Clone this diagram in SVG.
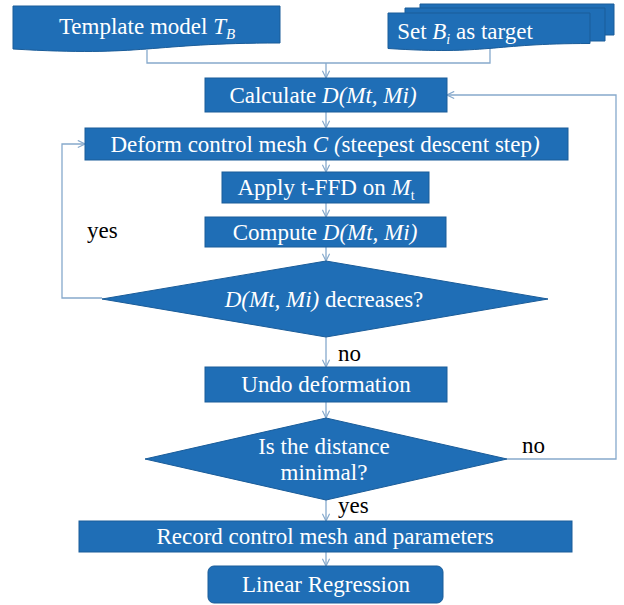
<svg xmlns="http://www.w3.org/2000/svg" width="624" height="605" viewBox="0 0 624 605">
<defs>
<style>
.box{fill:#1f6eb6;stroke:#1a5c99;stroke-width:1}
.t{font-family:"Liberation Serif","Times New Roman",serif;font-size:23px;fill:#ffffff;text-anchor:middle}
.lbl{font-family:"Liberation Serif","Times New Roman",serif;font-size:23px;fill:#000000}
.i{font-style:italic}
.ln{fill:none;stroke:#86a9cc;stroke-width:1.3}
</style>
<marker id="ah" viewBox="0 0 10 10" refX="9" refY="5" markerWidth="9" markerHeight="9" markerUnits="userSpaceOnUse" orient="auto">
<path d="M1,1 L9,5 L1,9" fill="none" stroke="#86a9cc" stroke-width="1.3"/>
</marker>
</defs>
<rect width="624" height="605" fill="#ffffff"/>

<g id="connectors">
<path class="ln" d="M147,50 V63 H490 V46"/>
<path class="ln" d="M326,63 V78" marker-end="url(#ah)"/>
<path class="ln" d="M326,112 V128" marker-end="url(#ah)"/>
<path class="ln" d="M326,160 V172" marker-end="url(#ah)"/>
<path class="ln" d="M326,203 V217" marker-end="url(#ah)"/>
<path class="ln" d="M326,247 V261" marker-end="url(#ah)"/>
<path class="ln" d="M102,298 H62 V144 H85" marker-end="url(#ah)"/>
<path class="ln" d="M326,337 V367" marker-end="url(#ah)"/>
<path class="ln" d="M326,402 V418" marker-end="url(#ah)"/>
<path class="ln" d="M507,459 H616 V95 H447" marker-end="url(#ah)"/>
<path class="ln" d="M326,500 V521" marker-end="url(#ah)"/>
<path class="ln" d="M326,552 V566" marker-end="url(#ah)"/>
</g>

<g id="template">
<path class="box" d="M13,6 H280 V43 C146.5,43 146.5,57 13,49 Z"/>
<text class="t" x="147" y="34">Template model <tspan class="i">T</tspan><tspan class="i" font-size="15" dy="5">B</tspan></text>
</g>

<g id="setB">
<path class="box" d="M420,4 H614 V35 H600 V20 H420 Z"/>
<path class="box" d="M405,8 H605 V41 H588 V20 H405 Z"/>
<path class="box" d="M388,13 H590 V43.5 C489,43.5 489,55 388,48.5 Z"/>
<text class="t" x="465" y="39">Set <tspan class="i">B</tspan><tspan class="i" font-size="14" dy="5">i</tspan><tspan dy="-5"> as target</tspan></text>
</g>

<g id="calculate">
<rect class="box" x="205" y="78" width="242" height="34"/>
<text class="t" x="323" y="103">Calculate <tspan class="i">D(Mt, Mi)</tspan></text>
</g>

<g id="deform">
<rect class="box" x="85" y="128" width="483" height="32"/>
<text class="t" x="325" y="152">Deform control mesh <tspan class="i">C (</tspan>steepest descent step<tspan class="i">)</tspan></text>
</g>

<g id="apply">
<rect class="box" x="222" y="172" width="207" height="31"/>
<text class="t" x="326" y="195">Apply t-FFD on <tspan class="i">M</tspan><tspan font-size="14" dy="5">t</tspan></text>
</g>

<g id="compute">
<rect class="box" x="205" y="217" width="241" height="30"/>
<text class="t" x="325" y="240">Compute <tspan class="i">D(Mt, Mi)</tspan></text>
</g>

<g id="decision1">
<polygon class="box" points="326,261 548,299 326,337 102,299"/>
<text class="t" x="324" y="307"><tspan class="i">D(Mt, Mi)</tspan> decreases?</text>
</g>

<g id="undo">
<rect class="box" x="205" y="367" width="242" height="35"/>
<text class="t" x="326" y="392">Undo deformation</text>
</g>

<g id="decision2">
<polygon class="box" points="326,418 507,459 326,500 145,459"/>
<text class="t" x="324" y="454">Is the distance</text>
<text class="t" x="324" y="480">minimal?</text>
</g>

<g id="record">
<rect class="box" x="79" y="521" width="493" height="31"/>
<text class="t" x="325" y="544">Record control mesh and parameters</text>
</g>

<g id="linear">
<rect class="box" x="208" y="566" width="235" height="37" rx="6" ry="6"/>
<text class="t" x="326" y="592">Linear Regression</text>
</g>

<g id="labels">
<text class="lbl" x="87" y="238">yes</text>
<text class="lbl" x="338" y="361">no</text>
<text class="lbl" x="522" y="453">no</text>
<text class="lbl" x="338" y="513">yes</text>
</g>
</svg>
